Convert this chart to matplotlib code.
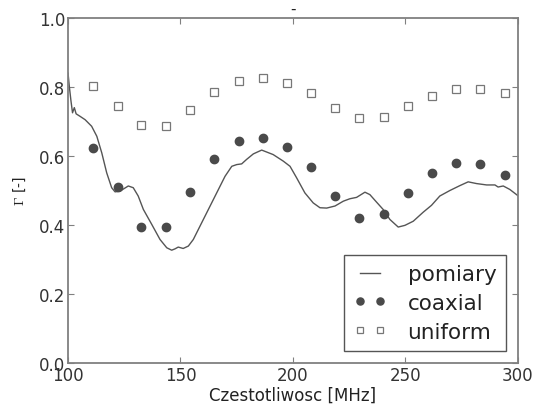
import matplotlib
matplotlib.use("Agg")
import matplotlib.pyplot as plt

plt.rcParams['mathtext.fontset'] = 'cm'

# pomiary (measured curve)
f_meas = [100.0, 100.6, 101.3, 102.0, 102.8, 103.6, 105.3, 107.6, 110.5, 112.8,
          115.0, 117.2, 119.4, 120.9, 123.1, 126.8, 129.0, 131.2, 133.5, 137.2,
          140.9, 143.9, 146.1, 147.6, 149.0, 151.2, 153.5, 155.7, 158.7, 162.4,
          166.1, 169.8, 172.8, 175.0, 177.2, 179.4, 182.4, 186.1, 191.2, 195.7,
          198.7, 201.6, 205.3, 209.0, 212.0, 215.0, 218.7, 222.4, 225.3, 228.3,
          232.0, 234.2, 237.2, 240.1, 243.1, 246.8, 249.8, 253.5, 257.9, 261.6,
          265.3, 269.8, 274.2, 277.9, 281.6, 286.1, 289.8, 291.2, 293.5, 296.4,
          299.4, 300.0]
g_meas = [0.84, 0.80, 0.76, 0.725, 0.74, 0.722, 0.715, 0.705, 0.686, 0.657,
          0.609, 0.551, 0.508, 0.496, 0.498, 0.513, 0.508, 0.484, 0.445, 0.402,
          0.358, 0.334, 0.327, 0.331, 0.336, 0.332, 0.339, 0.358, 0.397, 0.445,
          0.493, 0.541, 0.570, 0.575, 0.577, 0.590, 0.606, 0.617, 0.604, 0.585,
          0.570, 0.537, 0.493, 0.464, 0.450, 0.449, 0.455, 0.469, 0.476, 0.480,
          0.495, 0.488, 0.466, 0.445, 0.416, 0.394, 0.399, 0.411, 0.437, 0.457,
          0.484, 0.500, 0.514, 0.525, 0.520, 0.516, 0.516, 0.510, 0.513, 0.503,
          0.488, 0.485]

# model points
f_model = [111.2, 122.1, 132.6, 143.6, 154.2, 165.0, 176.0, 186.5, 197.5,
           208.0, 218.8, 229.5, 240.3, 251.2, 261.8, 272.7, 283.2, 294.1]
g_coaxial = [0.623, 0.511, 0.395, 0.395, 0.496, 0.590, 0.642, 0.652, 0.627,
             0.567, 0.484, 0.419, 0.433, 0.492, 0.550, 0.579, 0.577, 0.546]
g_uniform = [0.803, 0.744, 0.690, 0.687, 0.733, 0.785, 0.817, 0.825, 0.812,
             0.781, 0.739, 0.710, 0.714, 0.744, 0.775, 0.794, 0.795, 0.781]

fig = plt.figure(figsize=(5.42, 4.10), dpi=100)
ax = fig.add_axes([0.1255, 0.112, 0.83, 0.842])

ax.plot(f_meas, g_meas, '-', color='#555555', lw=1.0, label='pomiary')
ax.plot(f_model, g_coaxial, 'o', color='#4a4a4a', ms=6, mec='#4a4a4a', label='coaxial')
ax.plot(f_model, g_uniform, 's', color='white', ms=5.5, mec='#777777', mew=0.9, label='uniform')

ax.set_xlim(100, 300)
ax.set_ylim(0, 1.0)
ax.set_xticks([100, 150, 200, 250, 300])
ax.set_yticks([0.0, 0.2, 0.4, 0.6, 0.8, 1.0])

for s in ax.spines.values():
    s.set_color('#808080')
    s.set_linewidth(1.3)
ax.tick_params(direction='in', top=True, right=True, length=4, color='#808080',
               labelsize=12, labelcolor='#333333', pad=2)

ax.set_xlabel('Czestotliwosc [MHz]', fontsize=12, color='#222222', labelpad=1)
ax.set_ylabel(r'$\Gamma$ [-]', fontsize=10, color='#222222', labelpad=8)
ax.set_title('-', fontsize=11, color='#222222', pad=4)

leg = ax.legend(loc='lower right', numpoints=2, fontsize=15.5, fancybox=False,
                edgecolor='#555555', framealpha=1, labelspacing=0.4,
                handlelength=1.5, handletextpad=1.0, borderpad=0.45,
                borderaxespad=0.55, markerscale=0.85)
leg.get_frame().set_linewidth(1.0)
for t in leg.get_texts():
    t.set_color('#222222')

fig.savefig('out.png', dpi=100)
